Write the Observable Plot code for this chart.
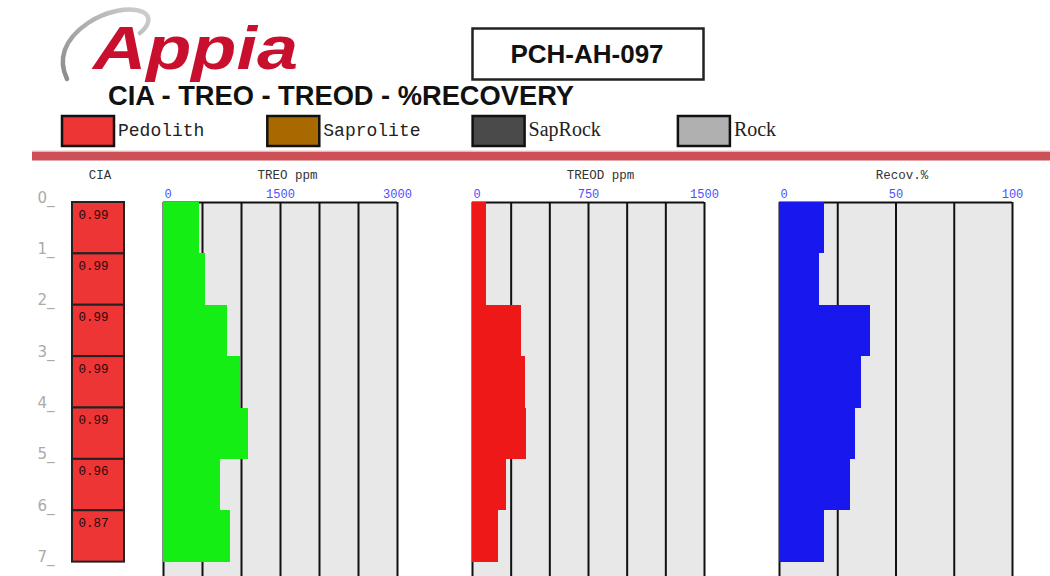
<!DOCTYPE html>
<html><head><meta charset="utf-8">
<script src="https://cdn.jsdelivr.net/npm/d3@7"></script>
<script src="https://cdn.jsdelivr.net/npm/@observablehq/plot@0.6"></script>
<style>
html,body{margin:0;padding:0;background:#fff;overflow:hidden;}
#page{position:relative;width:1050px;height:576px;overflow:hidden;background:#fff;}
.panel{position:absolute;top:160px;}
.panel svg{background:transparent;max-width:none;overflow:visible;}
</style></head><body>
<div id="page">
<svg id="header" width="1050" height="165" style="position:absolute;left:0;top:0">
  <defs>
    <linearGradient id="ring" x1="0" y1="1" x2="1" y2="0">
      <stop offset="0" stop-color="#8c8c8c"/>
      <stop offset="1" stop-color="#cfcfcf"/>
    </linearGradient>
  </defs>
  <path d="M 67,79 C 58,60 63,40 88,23 C 106,11 130,6 143,12 C 151,16 150,25 140,33" fill="none" stroke="url(#ring)" stroke-width="4.5" stroke-linecap="round"/>
  <text x="93" y="69" font-family="Liberation Sans" font-weight="bold" font-style="italic" font-size="61" fill="#c8102e" textLength="205" lengthAdjust="spacingAndGlyphs">Appia</text>
  <rect x="472.5" y="28.5" width="231" height="51" fill="#fff" stroke="#222" stroke-width="2.5"/>
  <text x="587" y="63" text-anchor="middle" font-family="Liberation Sans" font-weight="bold" font-size="26" fill="#111">PCH-AH-097</text>
  <text x="108" y="105" font-family="Liberation Sans" font-weight="bold" font-size="27" fill="#111" textLength="466" lengthAdjust="spacingAndGlyphs">CIA - TREO - TREOD - %RECOVERY</text>
  <g id="legend"></g>
  <rect x="32" y="151.5" width="1018" height="9" fill="#cc5055"/>
  <rect x="32" y="150.5" width="1018" height="1" fill="#f2c9cb"/>
</svg>
</div>
<script>
// ---- data ----
const depthFrom = [0, 1, 2, 3, 4, 5, 6];
const depthTo   = [1, 2, 3, 4, 5, 6, 7];
const cia   = [0.99, 0.99, 0.99, 0.99, 0.99, 0.96, 0.87];
const treo  = [460, 535, 820, 990, 1085, 725, 865];
const treod = [93, 93, 315, 343, 350, 220, 168];
const recov = [19.4, 17.2, 39.0, 35.3, 32.6, 30.6, 19.5];
const depthTicks = [0, 1, 2, 3, 4, 5, 6, 7];
const treoTicks  = [0, 1500, 3000];
const treodTicks = [0, 750, 1500];
const recovTicks = [0, 50, 100];
const treoGrid  = [0, 500, 1000, 1500, 2000, 2500, 3000];
const treodGrid = [0, 250, 500, 750, 1000, 1250, 1500];
const recovGrid = [0, 25, 50, 75, 100];
const legendNames  = ["Pedolith", "Saprolite", "SapRock", "Rock"];
const legendColors = ["#ee3535", "#a86a00", "#4a4a4a", "#b0b0b0"];
const titles = ["CIA", "TREO ppm", "TREOD ppm", "Recov.%"];

// ---- legend ----
const lg = d3.select("#legend");
legendNames.forEach((name, i) => {
  const x0 = 62 + i * 205.3;
  lg.append("rect").attr("x", x0).attr("y", 116).attr("width", 52).attr("height", 30)
    .attr("fill", legendColors[i]).attr("stroke", "#111").attr("stroke-width", 2.5);
  lg.append("text").attr("x", x0 + 56).attr("y", 136)
    .attr("font-family", i < 2 ? "Liberation Mono" : "Liberation Serif")
    .attr("font-size", i < 2 ? 18 : 20).attr("fill", "#222").text(name);
});

const H = 453, MT = 42;
const rows = depthFrom.map((d, i) => ({from: d, to: depthTo[i], cia: cia[i], treo: treo[i], treod: treod[i], recov: recov[i]}));
const page = document.getElementById("page");
function place(svg, left) {
  const d = document.createElement("div");
  d.className = "panel"; d.style.left = left + "px";
  d.appendChild(svg); page.appendChild(d);
}
const headFont = {fontFamily: "Liberation Mono", fontSize: 12.5, fill: "#333"};
const yScale = {domain: [0, 8], reverse: true, axis: null};

// ---- CIA column + depth axis ----
place(Plot.plot({
  width: 135, height: H, marginTop: MT, marginBottom: 0, marginLeft: 72, marginRight: 11,
  x: {type: "band", domain: ["CIA"], padding: 0, axis: null},
  y: yScale,
  marks: [
    Plot.barY(rows, {x: () => "CIA", y1: "from", y2: "to", fill: "#ee3535", stroke: "#222", strokeWidth: 2}),
    Plot.text(rows, {frameAnchor: "left", y: "from", text: d => d.cia.toFixed(2), textAnchor: "start", dx: 6, dy: 12, lineAnchor: "middle", fontFamily: "Liberation Mono", fontSize: 12.5, fill: "#2a0808"}),
    Plot.text(depthTicks, {frameAnchor: "left", y: d => d, text: d => `${d}_`, textAnchor: "start", dx: -35, lineAnchor: "bottom", fontFamily: "DejaVu Sans", fontSize: 15, fill: "#aaaaaa"}),
    Plot.text([titles[0]], {frameAnchor: "top", dx: 1.5, dy: -28, lineAnchor: "middle", ...headFont})
  ]
}), 0);

function panel(left, width, domain, key, ticks, grid, color, title, titleDx) {
  const tickFont = {y: 0, dy: -8, lineAnchor: "middle", fontFamily: "Liberation Mono", fontSize: 12, fill: "#4d4dff", text: d => String(d)};
  return place(Plot.plot({
    width, height: H, marginTop: MT, marginBottom: 0, marginLeft: 30, marginRight: 30,
    x: {domain, axis: null},
    y: yScale,
    marks: [
      Plot.rect([domain], {x1: d => d[0], x2: d => d[1], y1: 0, y2: 8, fill: "#e8e8e8"}),
      Plot.ruleX(grid, {x: d => d, y1: 0, y2: 8, stroke: "#111", strokeWidth: 2}),
      Plot.ruleY([0], {x1: domain[0], x2: domain[1], stroke: "#111", strokeWidth: 2}),
      Plot.rectX(rows, {x: key, y1: "from", y2: "to", fill: color, shapeRendering: "crispEdges"}),
      Plot.text(ticks.slice(0, 1), {x: d => d, dx: 1, textAnchor: "start", ...tickFont}),
      Plot.text(ticks.slice(1), {x: d => d, textAnchor: "middle", ...tickFont}),
      Plot.text([title], {frameAnchor: "top", dx: titleDx, dy: -28, lineAnchor: "middle", ...headFont})
    ]
  }), left);
}
panel(133, 294, [0, 3000], "treo", treoTicks, treoGrid, "#14ee14", titles[1], 7);
panel(442, 292, [0, 1500], "treod", treodTicks, treodGrid, "#ee1818", titles[2], 12);
panel(749, 293, [0, 100], "recov", recovTicks, recovGrid, "#1818ee", titles[3], 6);
</script>
</body></html>
